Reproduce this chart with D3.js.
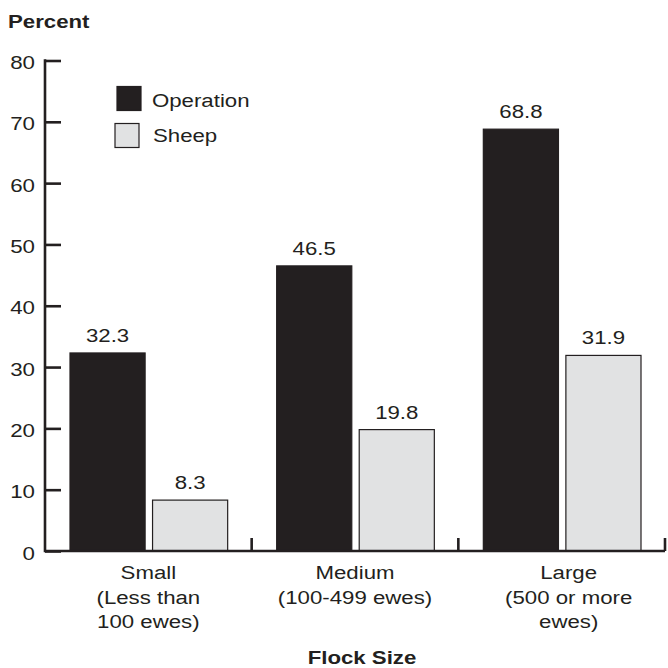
<!DOCTYPE html>
<html><head><meta charset="utf-8">
<script src="https://cdn.jsdelivr.net/npm/d3@7"></script>
<style>body{margin:0;background:#fff}svg{display:block}text{font-family:"Liberation Sans",Arial,sans-serif;fill:#231f20}</style>
</head><body><svg id="c" width="668" height="668"></svg>
<script>
const categories = ["Small", "Medium", "Large"];
const categoryLines = [["Small","(Less than","100 ewes)"],["Medium","(100-499 ewes)"],["Large","(500 or more","ewes)"]];
const seriesNames = ["Operation", "Sheep"];
const operation = [32.3, 46.5, 68.8];
const sheep = [8.3, 19.8, 31.9];
const yTicks = [0,10,20,30,40,50,60,70,80];

(function(){
const dark = "#231f20", light = "#e1e2e3";
const svg = d3.select("#c");
const mLeft = 45, mRight = 665, mTop = 60.5, mBottom = 551;
const x = d3.scaleBand().domain(categories).range([mLeft, mRight]);
const inner = d3.scaleBand().domain(seriesNames).range([25, x.bandwidth()-24]).paddingInner(0.09);
const y = d3.scaleLinear().domain([0,80]).range([mBottom, mTop]);

function txt(px, py, str, size, anchor, bold, sx){
  return svg.append("text").attr("transform",`translate(${px},${py}) scale(${sx||1.17},1)`)
    .attr("text-anchor",anchor||"start").attr("font-size",size)
    .attr("font-weight",bold?"bold":"normal").text(str);
}

// y axis
const ya = svg.append("g").attr("transform",`translate(${mLeft},0)`)
  .call(d3.axisRight(y).tickValues(yTicks).tickSize(16).tickFormat(""));
ya.select(".domain").remove();
ya.selectAll("line").attr("stroke",dark).attr("stroke-width",2.6);
svg.append("line").attr("x1",mLeft).attr("x2",mLeft).attr("y1",mTop-1.3).attr("y2",mBottom+1.3).attr("stroke",dark).attr("stroke-width",2.6);
yTicks.forEach(d=>txt(35, y(d)+8.5, String(d), 18, "end", false, 1.24));

// bars
const rows = categories.map((c,i)=>[{c,s:"Operation",v:operation[i]},{c,s:"Sheep",v:sheep[i]}]).flat();
svg.selectAll(".bar").data(rows).enter().append("rect")
  .attr("x",d=>x(d.c)+inner(d.s)).attr("width",inner.bandwidth())
  .attr("y",d=>y(d.v)).attr("height",d=>y(0)-y(d.v))
  .attr("fill",d=>d.s==="Operation"?dark:light)
  .attr("stroke",dark).attr("stroke-width",1.2);
rows.forEach(d=>txt(x(d.c)+inner(d.s)+inner.bandwidth()/2, y(d.v)-11, d.v.toFixed(1), 19, "middle"));

// x axis baseline and separators
svg.append("line").attr("x1",mLeft).attr("x2",mRight).attr("y1",mBottom).attr("y2",mBottom).attr("stroke",dark).attr("stroke-width",2.6);
svg.selectAll(".sep").data(categories).enter().append("line")
  .attr("x1",d=>x(d)+x.bandwidth()).attr("x2",d=>x(d)+x.bandwidth())
  .attr("y1",mBottom).attr("y2",mBottom-13).attr("stroke",dark).attr("stroke-width",2.6);

// category labels
categories.forEach((c,i)=>{
  categoryLines[i].forEach((ln,j)=>txt(x(c)+x.bandwidth()/2+(i===2?7:0), 579+24.5*j, ln, 19, "middle"));
});

// titles
txt(8, 28, "Percent", 19, "start", true);
txt(362, 664, "Flock Size", 19, "middle", true);

// legend
const lg = svg.append("g").selectAll("g").data(seriesNames).enter().append("g")
  .attr("transform",(d,i)=>`translate(${i===0?117:115},${i===0?86.5:123.5})`);
lg.append("rect").attr("width",24).attr("height",24).attr("fill",(d,i)=>i===0?dark:light).attr("stroke",dark).attr("stroke-width",1.2);
seriesNames.forEach((s,i)=>txt(i===0?152:153, i===0?107:142, s, 19, "start"));
})();
</script></body></html>
